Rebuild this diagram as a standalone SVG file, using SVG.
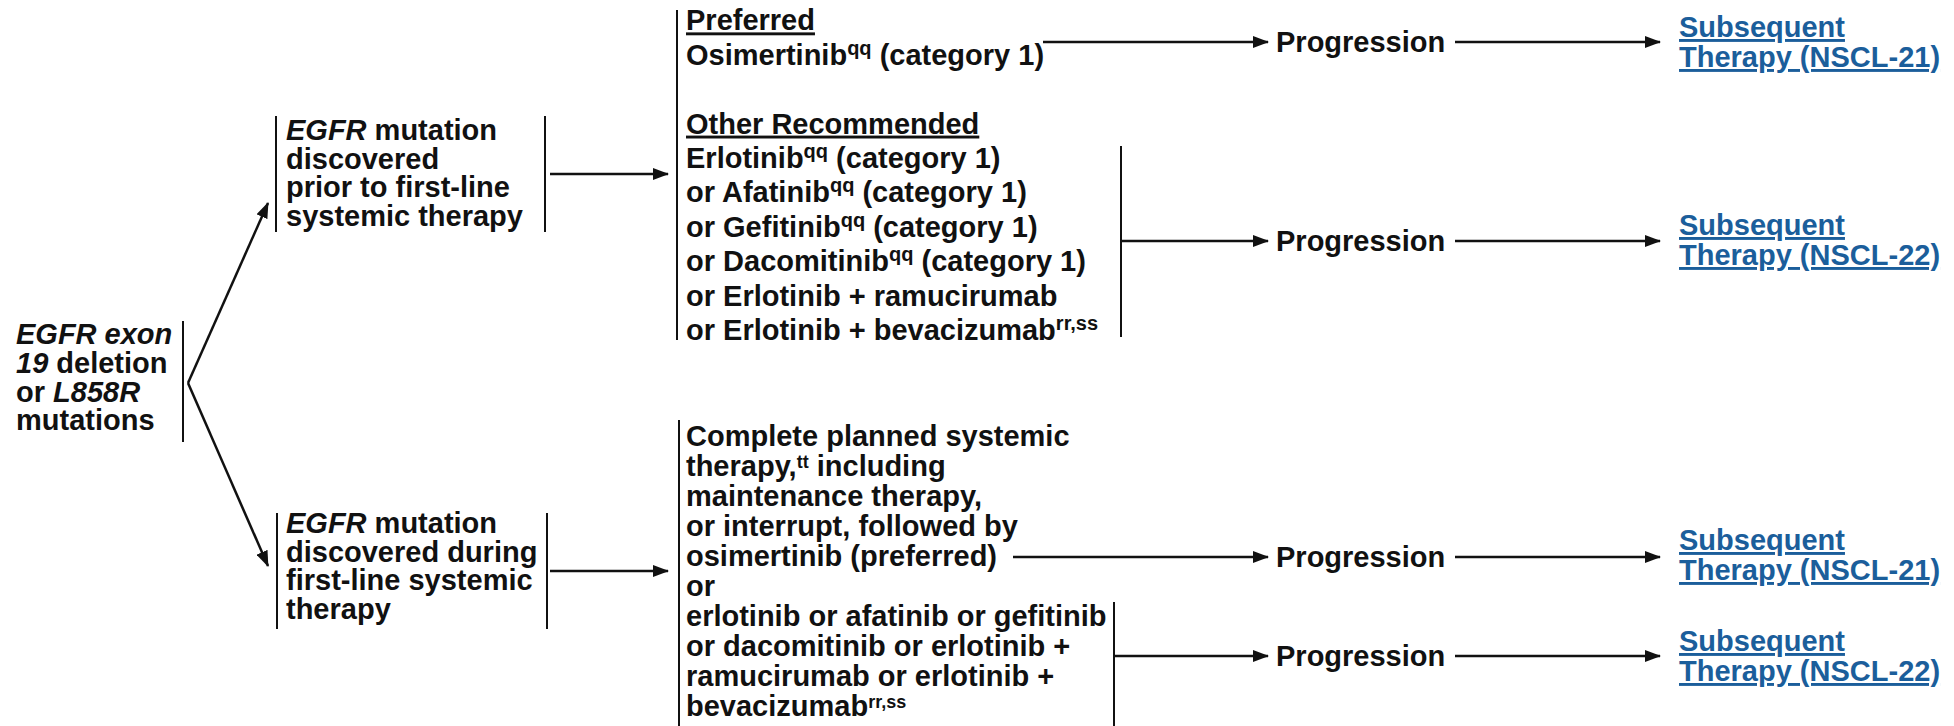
<svg xmlns="http://www.w3.org/2000/svg" width="1954" height="726" viewBox="0 0 1954 726">
<style>
text{font-family:"Liberation Sans",Arial,Helvetica,sans-serif;font-weight:bold;font-size:29px;fill:#111}
.i{font-style:italic}
.s{font-size:20px}
.s2{font-size:18px}
.u{text-decoration:underline}
.lk{fill:#1b5e9b;text-decoration:underline}
.bar{stroke:#111;stroke-width:2;fill:none}
.arr{stroke:#111;stroke-width:2.5;fill:none;marker-end:url(#ah)}
</style>
<defs>
<marker id="ah" viewBox="0 0 16 12" refX="15" refY="6" markerWidth="16" markerHeight="12" markerUnits="userSpaceOnUse" orient="auto">
<path d="M0,0 L16,6 L0,12 z" fill="#111"/>
</marker>
</defs>
<rect width="1954" height="726" fill="#fff"/>

<g id="node-start">
<text x="16" y="344"><tspan class="i">EGFR exon</tspan></text>
<text x="16" y="373"><tspan class="i">19</tspan> deletion</text>
<text x="16" y="401.5">or <tspan class="i">L858R</tspan></text>
<text x="16" y="430">mutations</text>
<line class="bar" x1="183" y1="321" x2="183" y2="442"/>
</g>

<g id="node-prior">
<line class="bar" x1="276" y1="116" x2="276" y2="232"/>
<text x="286" y="140"><tspan class="i">EGFR</tspan> mutation</text>
<text x="286" y="168.5">discovered</text>
<text x="286" y="197">prior to first-line</text>
<text x="286" y="225.5">systemic therapy</text>
<line class="bar" x1="545" y1="116" x2="545" y2="232"/>
</g>

<g id="node-during">
<line class="bar" x1="277" y1="513" x2="277" y2="629"/>
<text x="286" y="533"><tspan class="i">EGFR</tspan> mutation</text>
<text x="286" y="561.5">discovered during</text>
<text x="286" y="590">first-line systemic</text>
<text x="286" y="618.5">therapy</text>
<line class="bar" x1="547" y1="513" x2="547" y2="629"/>
</g>

<g id="node-first-line-options">
<line class="bar" x1="677" y1="10" x2="677" y2="340"/>
<text x="686" y="30.4" class="u">Preferred</text>
<text x="686" y="64.8">Osimertinib<tspan class="s" dy="-10">qq</tspan><tspan dy="10"> (category 1)</tspan></text>
<text x="686" y="133.6" class="u">Other Recommended</text>
<text x="686" y="168">Erlotinib<tspan class="s" dy="-10">qq</tspan><tspan dy="10"> (category 1)</tspan></text>
<text x="686" y="202.4">or Afatinib<tspan class="s" dy="-10">qq</tspan><tspan dy="10"> (category 1)</tspan></text>
<text x="686" y="236.8">or Gefitinib<tspan class="s" dy="-10">qq</tspan><tspan dy="10"> (category 1)</tspan></text>
<text x="686" y="271.2">or Dacomitinib<tspan class="s" dy="-10">qq</tspan><tspan dy="10"> (category 1)</tspan></text>
<text x="686" y="305.6">or Erlotinib + ramucirumab</text>
<text x="686" y="340">or Erlotinib + bevacizumab<tspan class="s" dy="-10">rr,ss</tspan></text>
<line class="bar" x1="1121" y1="146" x2="1121" y2="337"/>
</g>

<g id="node-during-options">
<line class="bar" x1="679" y1="420" x2="679" y2="726"/>
<text x="686" y="446">Complete planned systemic</text>
<text x="686" y="476">therapy,<tspan class="s2" dy="-8">tt</tspan><tspan dy="8"> including</tspan></text>
<text x="686" y="506">maintenance therapy,</text>
<text x="686" y="536">or interrupt, followed by</text>
<text x="686" y="566">osimertinib (preferred)</text>
<text x="686" y="596">or</text>
<text x="686" y="626">erlotinib or afatinib or gefitinib</text>
<text x="686" y="656">or dacomitinib or erlotinib +</text>
<text x="686" y="686">ramucirumab or erlotinib +</text>
<text x="686" y="716">bevacizumab<tspan class="s2" dy="-8">rr,ss</tspan></text>
<line class="bar" x1="1114" y1="602" x2="1114" y2="726"/>
</g>

<g id="node-progression-1"><text x="1276" y="52">Progression</text></g>
<g id="node-progression-2"><text x="1276" y="251">Progression</text></g>
<g id="node-progression-3"><text x="1276" y="567">Progression</text></g>
<g id="node-progression-4"><text x="1276" y="666">Progression</text></g>

<g id="node-subsequent-1"><text x="1679" y="37" class="lk">Subsequent</text><text x="1679" y="67" class="lk">Therapy (NSCL-21)</text></g>
<g id="node-subsequent-2"><text x="1679" y="235" class="lk">Subsequent</text><text x="1679" y="265" class="lk">Therapy (NSCL-22)</text></g>
<g id="node-subsequent-3"><text x="1679" y="550" class="lk">Subsequent</text><text x="1679" y="580" class="lk">Therapy (NSCL-21)</text></g>
<g id="node-subsequent-4"><text x="1679" y="651" class="lk">Subsequent</text><text x="1679" y="681" class="lk">Therapy (NSCL-22)</text></g>

<g id="connectors">
<line class="arr" x1="188" y1="383" x2="268" y2="203"/>
<line class="arr" x1="188" y1="383" x2="268" y2="566"/>
<line class="arr" x1="550" y1="174" x2="668" y2="174"/>
<line class="arr" x1="550" y1="571" x2="668" y2="571"/>
<line class="arr" x1="1043" y1="42" x2="1268" y2="42"/>
<line class="arr" x1="1121" y1="241" x2="1268" y2="241"/>
<line class="arr" x1="1013" y1="557" x2="1268" y2="557"/>
<line class="arr" x1="1114" y1="656" x2="1268" y2="656"/>
<line class="arr" x1="1455" y1="42" x2="1660" y2="42"/>
<line class="arr" x1="1455" y1="241" x2="1660" y2="241"/>
<line class="arr" x1="1455" y1="557" x2="1660" y2="557"/>
<line class="arr" x1="1455" y1="656" x2="1660" y2="656"/>
</g>
</svg>
